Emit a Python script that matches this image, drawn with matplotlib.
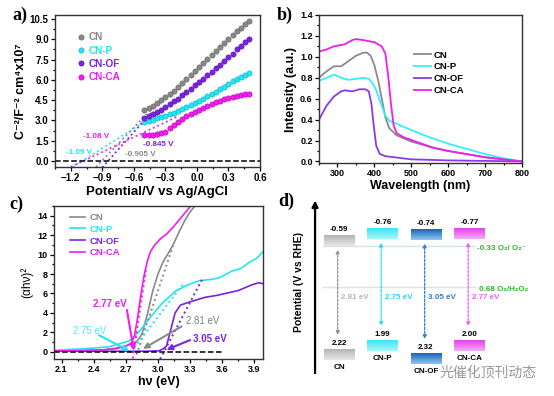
import numpy as np
import matplotlib
matplotlib.use('Agg')
import matplotlib.pyplot as plt
from matplotlib.ticker import MultipleLocator
from matplotlib.colors import LinearSegmentedColormap

plt.rcParams['font.family'] = ['Liberation Sans', 'DejaVu Sans']
plt.rcParams['font.weight'] = 'bold'
plt.rcParams['axes.labelweight'] = 'bold'
plt.rcParams['axes.linewidth'] = 1.0

names = ['CN', 'CN-P', 'CN-OF', 'CN-CA']
colors = ['#888888', '#22e6f0', '#7a22e0', '#f21cf2']

# ---- a) Mott-Schottky data
ms_v = [-0.50, -0.46, -0.42, -0.38, -0.34, -0.30, -0.26, -0.22, -0.18, -0.14, -0.10, -0.06, -0.02,
        0.02, 0.06, 0.10, 0.14, 0.18, 0.22, 0.26, 0.30, 0.34, 0.38, 0.42, 0.46, 0.50]
ms_cn = [3.8, 3.95, 4.1, 4.3, 4.5, 4.7, 4.95, 5.2, 5.45, 5.75, 6.05, 6.35, 6.65,
         6.95, 7.25, 7.55, 7.85, 8.15, 8.45, 8.75, 9.05, 9.35, 9.6, 9.85, 10.1, 10.35]
ms_cnp = [2.85, 2.95, 3.05, 3.15, 3.25, 3.35, 3.45, 3.55, 3.7, 3.85, 4.0, 4.15, 4.3,
          4.45, 4.6, 4.8, 4.95, 5.1, 5.3, 5.5, 5.7, 5.9, 6.05, 6.2, 6.35, 6.5]
ms_cnof = [3.2, 3.35, 3.5, 3.65, 3.8, 4.0, 4.2, 4.4, 4.6, 4.85, 5.1, 5.35, 5.6,
           5.85, 6.1, 6.35, 6.6, 6.85, 7.1, 7.4, 7.7, 7.95, 8.25, 8.5, 8.8, 9.05]
ms_cnca = [1.95, 1.95, 1.95, 2.0, 2.05, 2.15, 2.4, 2.65, 2.9, 3.1, 3.3, 3.45, 3.65,
           3.8, 3.95, 4.1, 4.2, 4.35, 4.45, 4.55, 4.62, 4.7, 4.78, 4.85, 4.92, 4.95]
# fitted lines: x-intercept, slope, start, end
fb_x0 = [-0.905, -1.09, -0.845, -1.08]
fb_slope = [8.1, 4.9, 8.7, 3.67]
fb_start = [-0.96, -1.18, -0.90, -1.20]
fb_end = [-0.44, -0.49, -0.44, -0.19]
fb_text = ['-0.905 V', '-1.09 V', '-0.845 V', '-1.08 V']
fb_tx = [-0.54, -1.12, -0.37, -0.96]
fb_ty = [0.5, 0.64, 1.23, 1.83]

# ---- b) UV-vis DRS
wl_cn = [250, 270, 290, 310, 330, 350, 370, 380, 390, 400, 410, 420, 430, 440, 460, 500, 550, 600, 650, 700, 750, 800]
ab_cn = [0.80, 0.86, 0.91, 0.91, 0.96, 1.01, 1.04, 1.04, 1.01, 0.92, 0.78, 0.60, 0.42, 0.32, 0.25, 0.19, 0.14, 0.10, 0.07, 0.04, 0.02, 0.0]
wl_cnp = [250, 270, 290, 310, 330, 350, 370, 385, 395, 405, 420, 430, 440, 460, 500, 550, 600, 650, 700, 750, 800]
ab_cnp = [0.77, 0.80, 0.83, 0.80, 0.78, 0.79, 0.80, 0.79, 0.75, 0.68, 0.53, 0.44, 0.39, 0.36, 0.30, 0.23, 0.17, 0.12, 0.07, 0.03, 0.0]
wl_cnof = [250, 270, 290, 310, 320, 340, 360, 375, 385, 392, 398, 405, 415, 430, 500, 600, 700, 800]
ab_cnof = [0.40, 0.53, 0.62, 0.67, 0.68, 0.67, 0.69, 0.69, 0.67, 0.55, 0.35, 0.15, 0.07, 0.05, 0.02, 0.01, 0.005, 0.0]
wl_cnca = [250, 270, 290, 320, 340, 350, 370, 400, 420, 430, 438, 445, 452, 460, 480, 520, 560, 600, 650, 700, 750, 800]
ab_cnca = [1.05, 1.07, 1.10, 1.12, 1.16, 1.17, 1.16, 1.14, 1.10, 1.03, 0.80, 0.55, 0.35, 0.27, 0.23, 0.18, 0.13, 0.10, 0.07, 0.04, 0.02, 0.0]

# ---- c) Tauc plot
e_cn = [2.03, 2.5, 2.6, 2.7, 2.75, 2.8, 2.85, 2.9, 2.95, 3.0, 3.05, 3.1, 3.15, 3.2, 3.25, 3.3, 3.36]
t_cn = [0.05, 0.2, 0.35, 0.6, 0.8, 1.0, 1.8, 3.8, 6.2, 8.0, 9.3, 10.2, 11.2, 12.4, 13.5, 14.4, 15.2]
e_cnp = [2.03, 2.3, 2.54, 2.73, 2.82, 2.91, 3.04, 3.16, 3.26, 3.38, 3.5, 3.57, 3.69, 3.78, 3.85, 3.92, 3.98]
t_cnp = [0.15, 0.3, 0.5, 1.1, 2.0, 3.3, 5.0, 6.2, 6.8, 7.3, 7.45, 7.6, 8.3, 8.6, 9.2, 9.6, 10.3]
e_cnof = [2.03, 2.5, 2.9, 3.01, 3.05, 3.08, 3.12, 3.16, 3.21, 3.29, 3.44, 3.55, 3.63, 3.75, 3.88, 3.94, 3.98]
t_cnof = [0.05, 0.05, 0.05, 0.1, 0.3, 0.6, 2.3, 4.0, 4.8, 5.1, 5.6, 5.8, 6.0, 6.3, 6.9, 7.1, 7.0]
e_cnca = [2.03, 2.3, 2.5, 2.6, 2.7, 2.75, 2.78, 2.81, 2.84, 2.87, 2.9, 2.93, 2.97, 3.02, 3.08, 3.14, 3.2, 3.26, 3.32]
t_cnca = [0.08, 0.12, 0.2, 0.3, 0.55, 0.9, 1.6, 3.5, 5.8, 7.8, 9.3, 10.3, 11.0, 11.6, 12.1, 12.8, 13.6, 14.4, 15.2]
tf_x = [[2.80, 3.14], [2.75, 3.23], [3.02, 3.42], [2.765, 2.89]]
tf_y = [[-0.3, 10.9], [0.0, 6.9], [-0.75, 7.6], [-0.7, 8.6]]
eg_text = ['2.81 eV', '2.75 eV', '3.05 eV', '2.77 eV']
eg_txt_xy = [(3.42, 3.2), (2.36, 2.15), (3.48, 1.3), (2.55, 4.9)]
eg_tip_xy = [(2.86, 0.3), (2.73, 0.1), (3.08, 0.2), (2.775, 0.1)]
eg_tail_xy = [(3.22, 2.6), (2.45, 1.7), (3.3, 1.2), (2.71, 4.3)]
eg_tcolor = ['#808080', '#4fe8f8', '#7a22e0', '#f21cf2']

# ---- d) band structure
cb = [-0.59, -0.76, -0.74, -0.77]
vb = [2.22, 1.99, 2.32, 2.00]
gap = ['2.81 eV', '2.75 eV', '3.05 eV', '2.77 eV']
box_top = ['#b4b4b4', '#3ae6f2', '#1a64b8', '#e442ea']
box_bot = ['#e6e6e6', '#a6f6fa', '#8ec6f2', '#f6aaf6']
gap_color = ['#b8b8b8', '#28d8f6', '#2a80d4', '#f060f0']
arr_color = ['#909090', '#28d8f6', '#2a80d4', '#f060f0']
redox = [-0.33, 0.68]
redox_text = ['-0.33 O\u2082/ O\u2082\u207b', '0.68 O\u2082/H\u2082O\u2082']

W, H = 554, 396
fig = plt.figure(figsize=(W / 100, H / 100), dpi=100)


def px_axes(l, t, r, b):
    return fig.add_axes([l / W, 1 - b / H, (r - l) / W, (b - t) / H])


def style(ax, fs):
    ax.tick_params(which='both', direction='out', labelsize=fs, width=0.9, pad=1.5)
    ax.tick_params(which='major', length=3)
    ax.tick_params(which='minor', length=1.6)
    for s in ax.spines.values():
        s.set_color('#333333')


# ===== a
ax = px_axes(55, 15, 260, 167)
ms_all = [ms_cn, ms_cnp, ms_cnof, ms_cnca]
edge = ['#606060', '#10b0c0', '#5010a8', '#b000b0']
for i in range(4):
    ax.plot(ms_v, ms_all[i], 'o', ms=3.8, color=colors[i], mec=edge[i], mew=0.4, label=names[i])
    xs = np.array([fb_start[i], fb_end[i]])
    ax.plot(xs, fb_slope[i] * (xs - fb_x0[i]), ':', color=colors[i], lw=1.3)
    ax.text(fb_tx[i], fb_ty[i], fb_text[i], color=colors[i], fontsize=5.8, ha='center', va='center')
ax.axhline(0, color='black', ls='--', lw=1.1)
ax.set_xlim(-1.35, 0.6)
ax.set_ylim(-0.45, 10.8)
ax.xaxis.set_major_locator(MultipleLocator(0.3))
ax.xaxis.set_minor_locator(MultipleLocator(0.15))
ax.yaxis.set_major_locator(MultipleLocator(1.5))
ax.yaxis.set_minor_locator(MultipleLocator(0.75))
ax.set_xticks([-1.2, -0.9, -0.6, -0.3, 0.0, 0.3, 0.6])
style(ax, 7)
ax.set_xlabel('Potential/V vs Ag/AgCl', fontsize=9.5, labelpad=2)
ax.set_ylabel('C\u207b\u00b2/F\u207b\u00b2 cm\u2074x10\u2077', fontsize=9, labelpad=2)
leg = ax.legend(loc='upper left', bbox_to_anchor=(0.105, 0.885), frameon=False, fontsize=7.2,
                handlelength=0.8, handletextpad=0.4, labelspacing=0.32, borderpad=0, borderaxespad=0,
                numpoints=1)
for t, c in zip(leg.get_texts(), colors):
    t.set_color(c)

# ===== b
ax = px_axes(319, 15, 522, 163)
wl_all = [wl_cn, wl_cnp, wl_cnof, wl_cnca]
ab_all = [ab_cn, ab_cnp, ab_cnof, ab_cnca]
b_colors = ['#8a8a8a', '#33f0f8', '#8a3ae8', '#f21cf2']
for i in range(4):
    ax.plot(wl_all[i], ab_all[i], color=b_colors[i], lw=1.3, label=names[i])
ax.set_xlim(250, 800)
ax.set_ylim(-0.015, 1.4)
ax.xaxis.set_major_locator(MultipleLocator(100))
ax.xaxis.set_minor_locator(MultipleLocator(50))
ax.yaxis.set_major_locator(MultipleLocator(0.2))
ax.yaxis.set_minor_locator(MultipleLocator(0.1))
style(ax, 6.5)
ax.set_xlabel('Wavelength (nm)', fontsize=9, labelpad=1)
ax.set_ylabel('Intensity (a.u.)', fontsize=9, labelpad=2)
ax.legend(loc='upper left', bbox_to_anchor=(0.47, 0.76), frameon=False, fontsize=6.8,
          handlelength=1.75, handletextpad=0.3, labelspacing=0.3, borderpad=0, borderaxespad=0)

# ===== c
ax = px_axes(54, 206, 263, 359)
e_all = [e_cn, e_cnp, e_cnof, e_cnca]
t_all = [t_cn, t_cnp, t_cnof, t_cnca]
c_colors = ['#8a8a8a', '#22e6f0', '#7a22e0', '#f21cf2']
for i in range(4):
    ax.plot(e_all[i], t_all[i], color=c_colors[i], lw=1.2, label=names[i])
for i in range(4):
    ax.plot(tf_x[i], tf_y[i], ':', color=c_colors[i], lw=1.4)
ax.plot([2.03, 3.6], [0, 0], '--', color='black', lw=1.1)
for i in range(4):
    ax.annotate('', xy=eg_tip_xy[i], xytext=eg_tail_xy[i],
                arrowprops=dict(arrowstyle='-|>', color=c_colors[i], lw=1.5, mutation_scale=8,
                                shrinkA=0, shrinkB=0))
    ax.text(eg_txt_xy[i][0], eg_txt_xy[i][1], eg_text[i], color=eg_tcolor[i],
            fontsize=7, ha='center', va='center',
            fontweight='normal' if i in (0, 1) else 'bold')
ax.set_xlim(2.03, 3.98)
ax.set_ylim(-0.75, 15)
ax.set_xticks([2.1, 2.4, 2.7, 3.0, 3.3, 3.6, 3.9])
ax.xaxis.set_minor_locator(MultipleLocator(0.15))
ax.yaxis.set_major_locator(MultipleLocator(2))
ax.yaxis.set_minor_locator(MultipleLocator(1))
style(ax, 6.5)
ax.set_xlabel('h\u03bd (eV)', fontsize=9, labelpad=1)
ax.set_ylabel('(\u03b1h\u03bd)\u00b2', fontsize=8.5, fontweight='normal', labelpad=3)
leg = ax.legend(loc='upper left', bbox_to_anchor=(0.077, 0.955), frameon=False, fontsize=6.8,
                handlelength=1.55, handletextpad=0.5, labelspacing=0.3, borderpad=0, borderaxespad=0)
for t, c in zip(leg.get_texts(), c_colors):
    t.set_color(c)

# ===== d
ax = fig.add_axes([277 / W, 0, 277 / W, 200 / H])
ax.set_axis_off()
xs = np.arange(4)
bw, bh = 0.69, 0.26
for i in range(4):
    cmap = LinearSegmentedColormap.from_list('g%d' % i, [box_top[i], box_bot[i]])
    grad = np.linspace(0, 1, 32).reshape(-1, 1)
    for v in (cb[i], vb[i]):
        ax.imshow(grad, cmap=cmap, aspect='auto', origin='upper',
                  extent=(xs[i] - bw / 2, xs[i] + bw / 2, v + bh, v), zorder=2)
    ax.text(xs[i], cb[i] - 0.15, '%.2f' % cb[i], fontsize=5.8, ha='center', va='center')
    ax.text(xs[i], vb[i] - 0.15, '%.2f' % vb[i], fontsize=5.8, ha='center', va='center')
    ax.text(xs[i], vb[i] + bh + 0.19, names[i], fontsize=5.8, ha='center', va='center')
    ax_x = xs[i] - 0.03
    ax.annotate('', xy=(ax_x, cb[i] + bh + 0.09), xytext=(ax_x, vb[i] - 0.36),
                arrowprops=dict(arrowstyle='<|-|>', color=arr_color[i], lw=0.9, ls=(0, (2, 1.2)),
                                mutation_scale=5, shrinkA=0, shrinkB=0))
    ax.text(ax_x + 0.08, 0.95, gap[i], color=gap_color[i], fontsize=5.8, ha='left', va='center')
for k in range(2):
    ax.plot([-0.37, 3.12], [redox[k], redox[k]], color='#cfe8e4', lw=1.0, zorder=1)
    ax.text(3.17 + 0.06 * k, redox[k] + 0.05, redox_text[k], color='#2cba2c', fontsize=5.8,
            ha='left', va='center')
ax.annotate('', xy=(-0.55, -1.45), xytext=(-0.55, 2.80),
            arrowprops=dict(arrowstyle='-|>', color='black', lw=1.6, mutation_scale=9,
                            shrinkA=0, shrinkB=0))
ax.text(-0.92, 0.55, 'Potential (V vs RHE)', rotation=90, fontsize=7.5, ha='center', va='center')
ax.set_xlim(-1.425, 4.943)
ax.set_ylim(3.364, -1.562)

# panel letters and watermark
for lab, x, y in [('a)', 20, 15), ('b)', 285, 15), ('c)', 16, 204), ('d)', 286, 201)]:
    fig.text(x / W, 1 - y / H, lab, fontsize=13, fontweight='bold', family='Liberation Serif',
             ha='center', va='center')
fig.text(488 / W, 1 - 372 / H, '光催化顶刊动态', fontsize=10, color='#9a9a9a', fontweight='normal',
         family=['Noto Sans CJK SC', 'DejaVu Sans'], ha='center', va='center')

fig.savefig('out.png', dpi=100)
